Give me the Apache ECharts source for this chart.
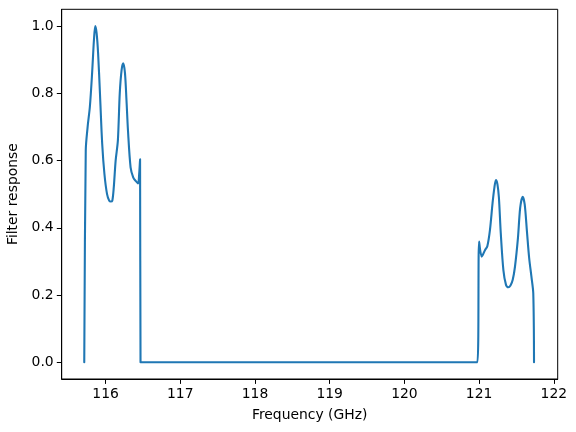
<!DOCTYPE html>
<html>
<head>
<meta charset="utf-8">
<script src="https://cdn.jsdelivr.net/npm/echarts@6/dist/echarts.min.js"></script>
<style>html,body{margin:0;padding:0;background:#fff}#c{width:576px;height:432px}</style>
</head>
<body>
<div id="c"></div>
<script>
const freq = [115.715,115.735,115.76,115.79,115.82,115.845,115.862,115.88,115.90,115.925,115.955,115.985,116.02,116.05,116.07,116.09,116.11,116.135,116.165,116.19,116.215,116.237,116.26,116.28,116.30,116.335,116.37,116.40,116.435,116.45,116.462,116.468,120.977,121.0,121.035,121.08,121.11,121.145,121.18,121.205,121.225,121.245,121.265,121.29,121.325,121.36,121.39,121.42,121.45,121.48,121.52,121.55,121.583,121.61,121.64,121.67,121.70,121.725,121.735];
const response = [0,0.63,0.70,0.76,0.86,0.96,1.0,0.98,0.92,0.80,0.65,0.56,0.50,0.48,0.478,0.48,0.52,0.60,0.66,0.80,0.87,0.889,0.86,0.78,0.69,0.58,0.55,0.54,0.532,0.56,0.604,0,0,0.359,0.314,0.334,0.345,0.393,0.473,0.52,0.542,0.53,0.49,0.384,0.274,0.230,0.223,0.228,0.245,0.284,0.37,0.46,0.492,0.47,0.39,0.31,0.255,0.205,0];
const xTicks = [116,117,118,119,120,121,122];
const yTicks = [0,0.2,0.4,0.6,0.8,1.0];
const xLabel = 'Frequency (GHz)';
const yLabel = 'Filter response';

const font = 'DejaVu Sans';
const chart = echarts.init(document.getElementById('c'), null, {renderer:'canvas'});
chart.setOption({
  animation:false,
  grid:{left:61.7,right:18.3,top:9.3,bottom:53,containLabel:false,outerBoundsMode:'none',show:true,borderColor:'#000',borderWidth:1,backgroundColor:'transparent'},
  xAxis:{type:'value',min:115.413,max:122.052,
    name:xLabel,nameLocation:'middle',nameGap:29.5,
    nameTextStyle:{fontFamily:font,fontSize:13.9,color:'#000'},
    axisLine:{show:true,onZero:false,lineStyle:{color:'#000',width:1}},
    axisTick:{show:true,length:4.9,customValues:xTicks,lineStyle:{color:'#000'}},
    axisLabel:{customValues:xTicks,margin:8,fontFamily:font,fontSize:13.9,color:'#000',formatter:v=>String(Math.round(v))},
    splitLine:{show:false}},
  yAxis:{type:'value',min:-0.05,max:1.05,
    name:yLabel,nameLocation:'middle',nameGap:39,nameRotate:90,
    nameTextStyle:{fontFamily:font,fontSize:13.9,color:'#000'},
    axisLine:{show:true,onZero:false,lineStyle:{color:'#000',width:1}},
    axisTick:{show:true,length:4.9,customValues:yTicks,lineStyle:{color:'#000'}},
    axisLabel:{customValues:yTicks,margin:8,fontFamily:font,fontSize:13.9,color:'#000',formatter:v=>v.toFixed(1)},
    splitLine:{show:false}},
  series:[{type:'line',data:freq.map((f,i)=>[f,response[i]]),showSymbol:false,
    smooth:0.3,
    lineStyle:{color:'#1f77b4',width:2.1,join:'round',cap:'round'},itemStyle:{color:'#1f77b4'}}]
});
</script>
</body>
</html>
